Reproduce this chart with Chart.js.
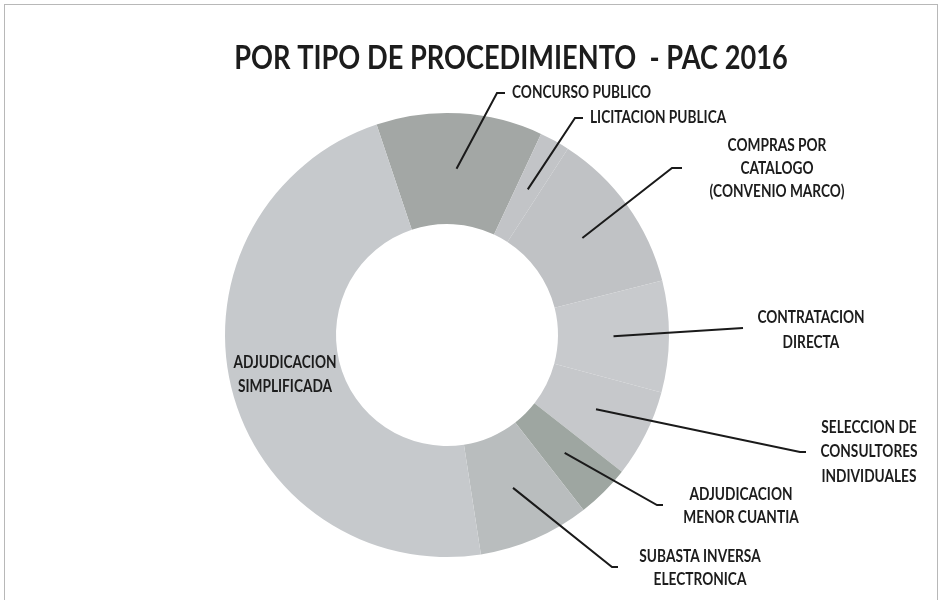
<!DOCTYPE html>
<html>
<head>
    <title>Por tipo de procedimiento - PAC 2016</title>
    <script src="https://cdn.jsdelivr.net/npm/chart.js"></script>
    <style>
        body { margin: 0; background: #fff; }
        #wrap { position: relative; width: 939px; height: 600px; overflow: hidden; }
        #frame { position: absolute; left: 4px; top: 4px; width: 932px; height: 700px; border: 1px solid #b8b8b8; }
        canvas { position: absolute; left: 0; top: 0; }
    </style>
</head>
<body>
    <div id="wrap">
        <div id="frame"></div>
        <canvas id="pacChart" width="939" height="600"></canvas>
    </div>

    <script>
        // Data (share of procedures, %)
        const chartTitle = 'POR TIPO DE PROCEDIMIENTO  - PAC 2016';
        const categories = [
            'CONCURSO PUBLICO',
            'LICITACION PUBLICA',
            'COMPRAS POR CATALOGO (CONVENIO MARCO)',
            'CONTRATACION DIRECTA',
            'SELECCION DE CONSULTORES INDIVIDUALES',
            'ADJUDICACION MENOR CUANTIA',
            'SUBASTA INVERSA ELECTRONICA',
            'ADJUDICACION SIMPLIFICADA'
        ];
        const shares = [12.1, 2.2, 11.9, 8.1, 6.4, 3.9, 8.1, 47.3];
        const labelLines = [
            ['CONCURSO PUBLICO'],
            ['LICITACION PUBLICA'],
            ['COMPRAS POR', 'CATALOGO', '(CONVENIO MARCO)'],
            ['CONTRATACION', 'DIRECTA'],
            ['SELECCION DE', 'CONSULTORES', 'INDIVIDUALES'],
            ['ADJUDICACION', 'MENOR CUANTIA'],
            ['SUBASTA INVERSA', 'ELECTRONICA'],
            ['ADJUDICACION', 'SIMPLIFICADA']
        ];
        const sliceColors = ['#a3a7a5', '#c2c4c7', '#c0c2c5', '#c8cacd', '#c6c8cb', '#9ea6a1', '#b9bdbe', '#c6c9cc'];

        // where each label sits and where its leader line bends
        const labelLayout = [
            { elbow: [497, 93], tick: 8, x: 512, y: [93], align: 'left' },
            { elbow: [575, 118], tick: 8, x: 590, y: [118], align: 'left' },
            { elbow: [672, 168], tick: 10, x: 777, y: [146, 169, 192], align: 'center' },
            { elbow: [743, 328], tick: 0, x: 811, y: [318, 343], align: 'center' },
            { elbow: [800, 452], tick: 6, x: 869, y: [428, 452, 477], align: 'center' },
            { elbow: [657, 505], tick: 6, x: 741, y: [495, 518], align: 'center' },
            { elbow: [612, 567], tick: 6, x: 700, y: [557, 580], align: 'center' },
            { elbow: null, x: 285, y: [363, 387], align: 'center' }
        ];

        // narrow the text a little, the original font is Calibri
        function squeezedText(ctx, text, x, y, sx) {
            ctx.save();
            ctx.translate(x, y);
            ctx.scale(sx, 1);
            ctx.fillText(text, 0, 0);
            ctx.restore();
        }

        const labelsPlugin = {
            id: 'leaderLabels',
            afterDatasetsDraw(chart) {
                const ctx = chart.ctx;
                const arcs = chart.getDatasetMeta(0).data;
                ctx.save();

                ctx.fillStyle = '#1c1c1c';
                ctx.textAlign = 'center';
                ctx.textBaseline = 'middle';
                ctx.font = 'bold 32px Lato';
                squeezedText(ctx, chartTitle, 511, 59, 0.85);

                ctx.strokeStyle = '#1a1a1a';
                ctx.lineWidth = 2;
                ctx.font = 'bold 16.5px Lato';
                arcs.forEach((arc, i) => {
                    const lay = labelLayout[i];
                    if (lay.elbow) {
                        const p = arc.tooltipPosition(true);
                        ctx.beginPath();
                        ctx.moveTo(p.x, p.y);
                        ctx.lineTo(lay.elbow[0], lay.elbow[1]);
                        if (lay.tick) ctx.lineTo(lay.elbow[0] + lay.tick, lay.elbow[1]);
                        ctx.stroke();
                    }
                    ctx.textAlign = lay.align;
                    labelLines[i].forEach((line, j) => {
                        squeezedText(ctx, line, lay.x, lay.y[j], 0.83);
                    });
                });
                ctx.restore();
            }
        };

        new Chart(document.getElementById('pacChart'), {
            type: 'doughnut',
            data: {
                labels: categories,
                datasets: [{
                    data: shares,
                    backgroundColor: sliceColors,
                    borderWidth: 0
                }]
            },
            options: {
                responsive: false,
                animation: false,
                rotation: -18.5,
                cutout: '50%',
                layout: { padding: { top: 113, bottom: 43, left: 225, right: 270 } },
                plugins: {
                    legend: { display: false },
                    tooltip: { enabled: false }
                }
            },
            plugins: [labelsPlugin]
        });
    </script>
</body>
</html>
